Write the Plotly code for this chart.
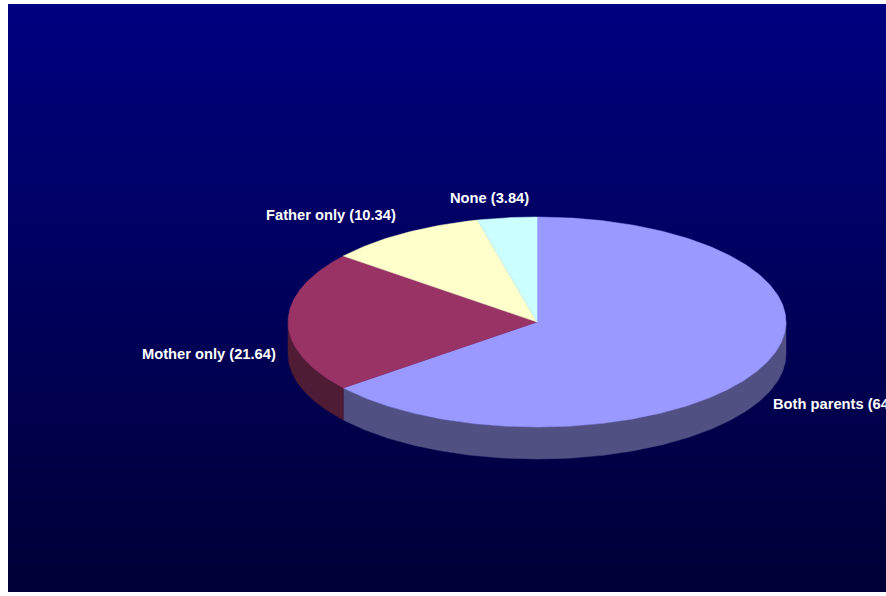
import numpy as np
import plotly.graph_objects as go

# Household composition shares (percent)
categories = ["Both parents", "Mother only", "Father only", "None"]
shares = [64.18, 21.64, 10.34, 3.84]

top_colors = ["#9999FF", "#993366", "#FFFFCC", "#CCFFFF"]
side_colors = ["#505083", "#4F1B35", "#808066", "#668080"]

# Page and plot-area geometry (pixels)
W, H = 886, 596
ML, MR, MT, MB = 8, 0, 4, 4
PW, PH = W - ML - MR, H - MT - MB

# Tilted pie geometry in plot-area pixel coordinates (y grows downward)
CX, CY = 529, 318
RX, RY, DEPTH = 249, 105, 32
LABEL_GAP = 10
LABEL_DX = [0, 0, 0, -16]

BG_TOP, BG_BOTTOM = "#000080", "#000036"


def ellipse_pts(a0, a1, dy=0.0, n=120):
    t = np.radians(np.linspace(a0, a1, max(2, int(n * (a1 - a0) / 90) + 2)))
    return CX + RX * np.sin(t), CY - RY * np.cos(t) + dy


fig = go.Figure()

# vertical gradient background
ny = 120
gy = np.linspace(0, PH, ny)
fig.add_trace(go.Heatmap(
    x=[-5, PW + 5], y=gy, z=[[v, v] for v in np.linspace(0, 1, ny)],
    colorscale=[[0, BG_TOP], [1, BG_BOTTOM]], showscale=False,
    zsmooth="best", hoverinfo="skip",
))

# slice angles, clockwise from 12 o'clock
total = sum(shares)
ends = np.cumsum(shares) / total * 360.0
starts = np.concatenate([[0.0], ends[:-1]])

# side walls (front half of the pie only)
for a0, a1, col in zip(starts, ends, side_colors):
    lo, hi = max(a0, 90.0), min(a1, 270.0)
    if hi <= lo:
        continue
    xt, yt = ellipse_pts(lo, hi)
    xb, yb = ellipse_pts(lo, hi, DEPTH)
    xs = np.concatenate([xt, xb[::-1], xt[:1]])
    ys = np.concatenate([yt, yb[::-1], yt[:1]])
    fig.add_trace(go.Scatter(
        x=xs, y=ys, mode="lines", fill="toself", fillcolor=col,
        line=dict(color=col, width=0.5), hoverinfo="skip", showlegend=False,
    ))

# top faces
for a0, a1, col in zip(starts, ends, top_colors):
    xa, ya = ellipse_pts(a0, a1)
    xs = np.concatenate([[CX], xa, [CX]])
    ys = np.concatenate([[CY], ya, [CY]])
    fig.add_trace(go.Scatter(
        x=xs, y=ys, mode="lines", fill="toself", fillcolor=col,
        line=dict(color=col, width=0.5), hoverinfo="skip", showlegend=False,
    ))

# data labels placed outside each slice's mid-angle
annotations = []
for cat, val, a0, a1, dx in zip(categories, shares, starts, ends, LABEL_DX):
    m = np.radians((a0 + a1) / 2)
    s, c = np.sin(m), np.cos(m)
    px = CX + (RX + LABEL_GAP) * s + dx
    py = CY - (RY + LABEL_GAP) * c
    if c <= 0.05:
        py += DEPTH
    xanchor = "left" if s > 0.3 else ("right" if s < -0.3 else "center")
    yanchor = "bottom" if c > 0.6 else ("top" if c < -0.6 else "middle")
    annotations.append(dict(
        x=px, y=py, xref="x", yref="y", showarrow=False,
        text=f"<b>{cat} ({val:.2f})</b>", xanchor=xanchor, yanchor=yanchor,
        font=dict(family="Arial, Liberation Sans, sans-serif", size=14.7, color="white"),
    ))

fig.update_layout(
    width=W, height=H,
    margin=dict(l=ML, r=MR, t=MT, b=MB, pad=0),
    paper_bgcolor="white", plot_bgcolor=BG_TOP,
    xaxis=dict(range=[0, PW], visible=False, fixedrange=True),
    yaxis=dict(range=[PH, 0], visible=False, fixedrange=True),
    annotations=annotations,
    showlegend=False,
)

fig.write_html("out.html")
